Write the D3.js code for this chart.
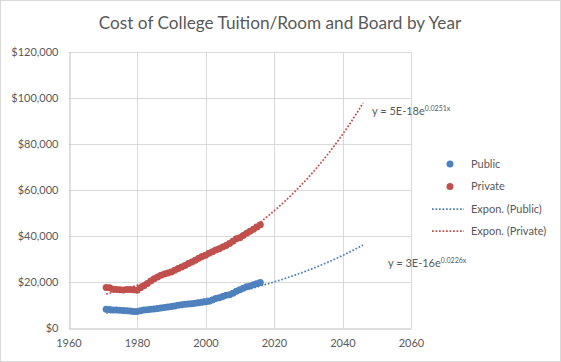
<!DOCTYPE html>
<html>
<head>
<meta charset="utf-8">
<script src="https://cdn.jsdelivr.net/npm/d3@7/dist/d3.min.js"></script>
<style>
  body { margin: 0; background: #fff; }
  svg text { font-family: Lato, "Liberation Sans", sans-serif; fill: #595959; }
</style>
</head>
<body>
<svg id="chart" width="561" height="362"></svg>
<script>
// academic years (start year)
var years = d3.range(1971, 2017);

// published tuition + room and board, constant dollars
var publicCost = [
  8300, 8200, 8000, 7900, 7850, 7700, 7650, 7500, 7350, 7300,
  7600, 7900, 8100, 8300, 8400, 8600, 8800, 9000, 9200, 9450,
  9700, 10000, 10200, 10400, 10550, 10700, 10900, 11100, 11300, 11550,
  11800, 12300, 12900, 13300, 13800, 14300, 14600, 15200, 16100, 16700,
  17400, 18000, 18400, 18900, 19400, 19900
];
var privateCost = [
  17700, 17600, 17000, 16800, 16700, 16600, 16800, 16900, 16700, 16500,
  17600, 18500, 19500, 20500, 21500, 22300, 23000, 23600, 24000, 24500,
  25200, 26000, 26600, 27300, 28100, 28800, 29600, 30400, 31200, 31700,
  32600, 33300, 34000, 34500, 35300, 36000, 36800, 37800, 38900, 39300,
  40300, 41300, 42200, 43000, 44000, 45000
];

// exponential trendlines: y = a * e^(b x); the chart prints a rounded
var trendPublic = { a: 3e-16, b: 0.0226, aText: '3E-16', bText: '0.0226x' };
var trendPrivate = { a: 4.87e-18, b: 0.0251, aText: '5E-18', bText: '0.0251x' };
var forecastYears = 30;

var xTicks = [1960, 1980, 2000, 2020, 2040, 2060];
var yTicks = [0, 20000, 40000, 60000, 80000, 100000, 120000];

var blue = '#4f81bd', red = '#c0504d';

(function() {
  var svg = d3.select('#chart');

  // outer chart border
  svg.append('rect')
    .attr('x', 0.5).attr('y', 0.5)
    .attr('width', 560).attr('height', 361)
    .attr('fill', '#fff').attr('stroke', '#d9d9d9');

  svg.append('text')
    .attr('x', 280).attr('y', 29)
    .attr('text-anchor', 'middle')
    .style('font-size', '17.2px')
    .text('Cost of College Tuition/Room and Board by Year');

  var x = d3.scaleLinear().domain([1960, 2060]).range([68.5, 411]);
  var y = d3.scaleLinear().domain([0, 120000]).range([328.3, 52]);

  // gridlines
  var grid = svg.append('g').attr('stroke', '#d9d9d9').attr('stroke-width', 1);
  grid.selectAll('line.h').data(yTicks.slice(1)).enter().append('line')
    .attr('x1', x(1960)).attr('x2', x(2060))
    .attr('y1', function(d) { return Math.round(y(d)) + 0.5; })
    .attr('y2', function(d) { return Math.round(y(d)) + 0.5; });
  grid.selectAll('line.v').data(xTicks.slice(1)).enter().append('line')
    .attr('y1', y(0)).attr('y2', y(120000))
    .attr('x1', function(d) { return Math.round(x(d)) + 0.5; })
    .attr('x2', function(d) { return Math.round(x(d)) + 0.5; });

  // axes
  var fmt = function(d) { return '$' + d3.format(',')(d); };
  var yAxis = svg.append('g')
    .attr('transform', 'translate(' + (Math.round(x(1960)) + 0.5) + ',0)')
    .call(d3.axisLeft(y).tickValues(yTicks).tickFormat(fmt).tickSize(0).tickPadding(11));
  var xAxis = svg.append('g')
    .attr('transform', 'translate(0,' + (Math.round(y(0)) + 0.5) + ')')
    .call(d3.axisBottom(x).tickValues(xTicks).tickFormat(d3.format('d')).tickSize(0).tickPadding(11));
  [xAxis, yAxis].forEach(function(ax) {
    ax.select('.domain').attr('stroke', '#bfbfbf');
    ax.selectAll('text').style('font-size', '11px').attr('fill', '#595959');
  });

  // trendlines (Excel forecasts 30 periods forward)
  function trendPts(t) {
    var xs = d3.range(years[0], years[years.length - 1] + forecastYears + 0.01, 0.5);
    return xs.map(function(v) { return [v, t.a * Math.exp(t.b * v)]; });
  }
  var line = d3.line().x(function(d) { return x(d[0]); }).y(function(d) { return y(d[1]); });

  // markers
  var series = [
    { name: 'Public', vals: publicCost, color: blue },
    { name: 'Private', vals: privateCost, color: red }
  ];
  series.forEach(function(s) {
    svg.append('g').selectAll('circle').data(years).enter().append('circle')
      .attr('cx', function(d) { return x(d); })
      .attr('cy', function(d, i) { return y(s.vals[i]); })
      .attr('r', 3.5)
      .attr('fill', s.color);
  });

  [[trendPublic, blue], [trendPrivate, red]].forEach(function(p) {
    svg.append('path')
      .datum(trendPts(p[0]))
      .attr('d', line)
      .attr('fill', 'none')
      .attr('stroke', p[1])
      .attr('stroke-width', 1.75)
      .attr('stroke-dasharray', '1.75,1.75');
  });

  // trendline equations
  function equation(t, px, py) {
    var txt = svg.append('text').attr('x', px).attr('y', py).style('font-size', '11px');
    txt.append('tspan').text('y = ' + t.aText + 'e');
    txt.append('tspan').attr('dy', -4).style('font-size', '7px').text(t.bText);
  }
  equation(trendPrivate, 372, 115);
  equation(trendPublic, 388, 267);

  // legend
  var legend = svg.append('g').attr('transform', 'translate(432,0)');
  var items = [
    { label: 'Public', color: blue, type: 'dot', yy: 164 },
    { label: 'Private', color: red, type: 'dot', yy: 186.5 },
    { label: 'Expon. (Public)', color: blue, type: 'line', yy: 209 },
    { label: 'Expon. (Private)', color: red, type: 'line', yy: 231 }
  ];
  items.forEach(function(it) {
    if (it.type === 'dot') {
      legend.append('circle').attr('cx', 18).attr('cy', it.yy).attr('r', 3.5).attr('fill', it.color);
    } else {
      legend.append('line')
        .attr('x1', 0).attr('x2', 32).attr('y1', it.yy).attr('y2', it.yy)
        .attr('stroke', it.color).attr('stroke-width', 1.75).attr('stroke-dasharray', '1.75,1.75');
    }
    legend.append('text')
      .attr('x', 39).attr('y', it.yy).attr('dy', '0.35em')
      .style('font-size', '11px')
      .text(it.label);
  });
}());
</script>
</body>
</html>
